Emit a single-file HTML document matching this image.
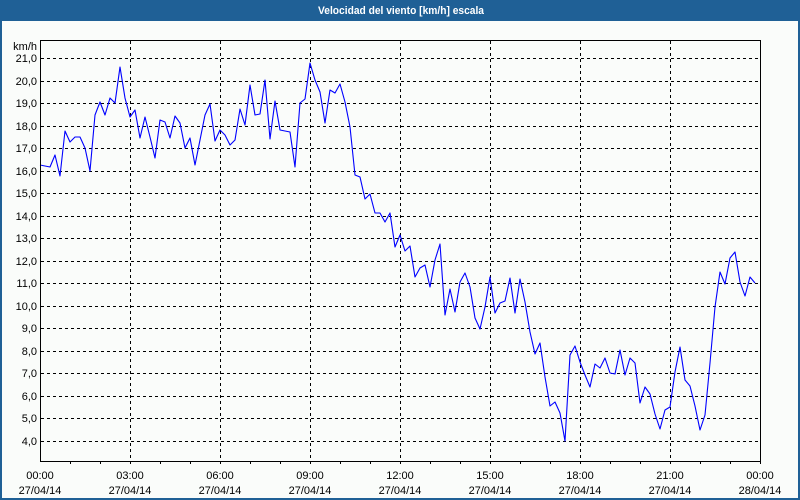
<!DOCTYPE html>
<html><head><meta charset="utf-8">
<style>
html,body{margin:0;padding:0;background:#fafcfa;}
svg{display:block;}
text{font-family:"Liberation Sans","DejaVu Sans",sans-serif;}
</style></head>
<body>
<svg width="800" height="500" viewBox="0 0 800 500" xmlns="http://www.w3.org/2000/svg">
<rect x="0" y="0" width="800" height="500" fill="#fafcfa"/>
<rect x="0" y="0" width="800" height="21" fill="#1f6096"/>
<rect x="0" y="0" width="2" height="500" fill="#1f6096"/>
<rect x="798" y="0" width="2" height="500" fill="#1f6096"/>
<rect x="0" y="498" width="800" height="2" fill="#1f6096"/>
<text x="401" y="14" fill="#ffffff" font-size="11" font-weight="bold" text-anchor="middle" textLength="166" lengthAdjust="spacingAndGlyphs">Velocidad del viento [km/h] escala</text>

<g stroke="#000" stroke-width="1" stroke-dasharray="3,3" fill="none">
<line x1="41" y1="58.5" x2="760" y2="58.5"/>
<line x1="41" y1="81.5" x2="760" y2="81.5"/>
<line x1="41" y1="103.5" x2="760" y2="103.5"/>
<line x1="41" y1="126.5" x2="760" y2="126.5"/>
<line x1="41" y1="148.5" x2="760" y2="148.5"/>
<line x1="41" y1="171.5" x2="760" y2="171.5"/>
<line x1="41" y1="193.5" x2="760" y2="193.5"/>
<line x1="41" y1="216.5" x2="760" y2="216.5"/>
<line x1="41" y1="238.5" x2="760" y2="238.5"/>
<line x1="41" y1="261.5" x2="760" y2="261.5"/>
<line x1="41" y1="283.5" x2="760" y2="283.5"/>
<line x1="41" y1="306.5" x2="760" y2="306.5"/>
<line x1="41" y1="328.5" x2="760" y2="328.5"/>
<line x1="41" y1="351.5" x2="760" y2="351.5"/>
<line x1="41" y1="373.5" x2="760" y2="373.5"/>
<line x1="41" y1="396.5" x2="760" y2="396.5"/>
<line x1="41" y1="418.5" x2="760" y2="418.5"/>
<line x1="41" y1="441.5" x2="760" y2="441.5"/>
<line x1="130.5" y1="41" x2="130.5" y2="461"/>
<line x1="220.5" y1="41" x2="220.5" y2="461"/>
<line x1="310.5" y1="41" x2="310.5" y2="461"/>
<line x1="400.5" y1="41" x2="400.5" y2="461"/>
<line x1="490.5" y1="41" x2="490.5" y2="461"/>
<line x1="580.5" y1="41" x2="580.5" y2="461"/>
<line x1="670.5" y1="41" x2="670.5" y2="461"/>
</g>

<polyline fill="none" stroke="#0000ff" stroke-width="1.1" stroke-linejoin="round" points="40,165 45,166 50,167 55,155 60,176 65,131 70,142 75,137 80,137 85,148 90,171 95,115 100,102 105,115 110,98 115,103 120,67 125,98 130,117 135,110 140,138 145,117 150,137 155,158 160,120 165,122 170,138 175,116 180,123 185,148 190,138 195,165 200,140 205,115 210,104 215,141 220,130 225,135 230,145 235,140 240,109 245,125 250,85 255,115 260,114 265,80 270,139 275,101 280,130 285,131 290,132 295,167 300,103 305,99 310,63 315,80 320,92 325,123 330,90 335,93 340,84 345,102 350,127 355,175 360,177 365,199 370,194 375,213 380,213 385,222 390,213 395,247 400,235 405,251 410,246 415,277 420,268 425,265 430,287 435,260 440,244 445,315 450,289 455,312 460,282 465,273 470,287 475,318 480,329 485,307 490,277 495,313 500,303 505,301 510,278 515,313 520,279 525,302 530,332 535,354 540,343 545,377 550,406 555,402 560,413 565,441 570,355 575,346 580,362 585,375 590,387 595,364 600,368 605,358 610,373 615,374 620,350 625,375 630,358 635,363 640,403 645,387 650,394 655,414 660,429 665,410 670,407 675,372 680,347 685,380 690,386 695,406 700,430 705,415 710,363 715,307 720,272 725,284 730,258 735,252 740,282 745,296 750,277 755,283"/>

<g stroke="#000" stroke-width="1" fill="none">
<line x1="40.5" y1="40" x2="40.5" y2="462"/>
<line x1="40" y1="40.5" x2="760" y2="40.5"/>
<line x1="760.5" y1="40" x2="760.5" y2="462"/>
<line x1="40" y1="461.5" x2="761" y2="461.5"/>
<line x1="70.5" y1="461" x2="70.5" y2="464"/>
<line x1="100.5" y1="461" x2="100.5" y2="464"/>
<line x1="130.5" y1="461" x2="130.5" y2="464"/>
<line x1="160.5" y1="461" x2="160.5" y2="464"/>
<line x1="190.5" y1="461" x2="190.5" y2="464"/>
<line x1="220.5" y1="461" x2="220.5" y2="464"/>
<line x1="250.5" y1="461" x2="250.5" y2="464"/>
<line x1="280.5" y1="461" x2="280.5" y2="464"/>
<line x1="310.5" y1="461" x2="310.5" y2="464"/>
<line x1="340.5" y1="461" x2="340.5" y2="464"/>
<line x1="370.5" y1="461" x2="370.5" y2="464"/>
<line x1="400.5" y1="461" x2="400.5" y2="464"/>
<line x1="430.5" y1="461" x2="430.5" y2="464"/>
<line x1="460.5" y1="461" x2="460.5" y2="464"/>
<line x1="490.5" y1="461" x2="490.5" y2="464"/>
<line x1="520.5" y1="461" x2="520.5" y2="464"/>
<line x1="550.5" y1="461" x2="550.5" y2="464"/>
<line x1="580.5" y1="461" x2="580.5" y2="464"/>
<line x1="610.5" y1="461" x2="610.5" y2="464"/>
<line x1="640.5" y1="461" x2="640.5" y2="464"/>
<line x1="670.5" y1="461" x2="670.5" y2="464"/>
<line x1="700.5" y1="461" x2="700.5" y2="464"/>
<line x1="730.5" y1="461" x2="730.5" y2="464"/>
<line x1="760.5" y1="461" x2="760.5" y2="464"/>
</g>

<g font-size="11" fill="#000" text-anchor="end">
<text x="37" y="50">km/h</text>
<text x="37" y="62">21,0</text>
<text x="37" y="85">20,0</text>
<text x="37" y="107">19,0</text>
<text x="37" y="130">18,0</text>
<text x="37" y="152">17,0</text>
<text x="37" y="175">16,0</text>
<text x="37" y="197">15,0</text>
<text x="37" y="220">14,0</text>
<text x="37" y="242">13,0</text>
<text x="37" y="265">12,0</text>
<text x="37" y="287">11,0</text>
<text x="37" y="310">10,0</text>
<text x="37" y="332">9,0</text>
<text x="37" y="355">8,0</text>
<text x="37" y="377">7,0</text>
<text x="37" y="400">6,0</text>
<text x="37" y="422">5,0</text>
<text x="37" y="445">4,0</text>
</g>

<g font-size="11" fill="#000" text-anchor="middle">
<text x="40" y="479">00:00</text><text x="40" y="494">27/04/14</text>
<text x="130" y="479">03:00</text><text x="130" y="494">27/04/14</text>
<text x="220" y="479">06:00</text><text x="220" y="494">27/04/14</text>
<text x="310" y="479">09:00</text><text x="310" y="494">27/04/14</text>
<text x="400" y="479">12:00</text><text x="400" y="494">27/04/14</text>
<text x="490" y="479">15:00</text><text x="490" y="494">27/04/14</text>
<text x="580" y="479">18:00</text><text x="580" y="494">27/04/14</text>
<text x="670" y="479">21:00</text><text x="670" y="494">27/04/14</text>
<text x="760" y="479">00:00</text><text x="760" y="494">28/04/14</text>
</g>
</svg>
</body></html>
